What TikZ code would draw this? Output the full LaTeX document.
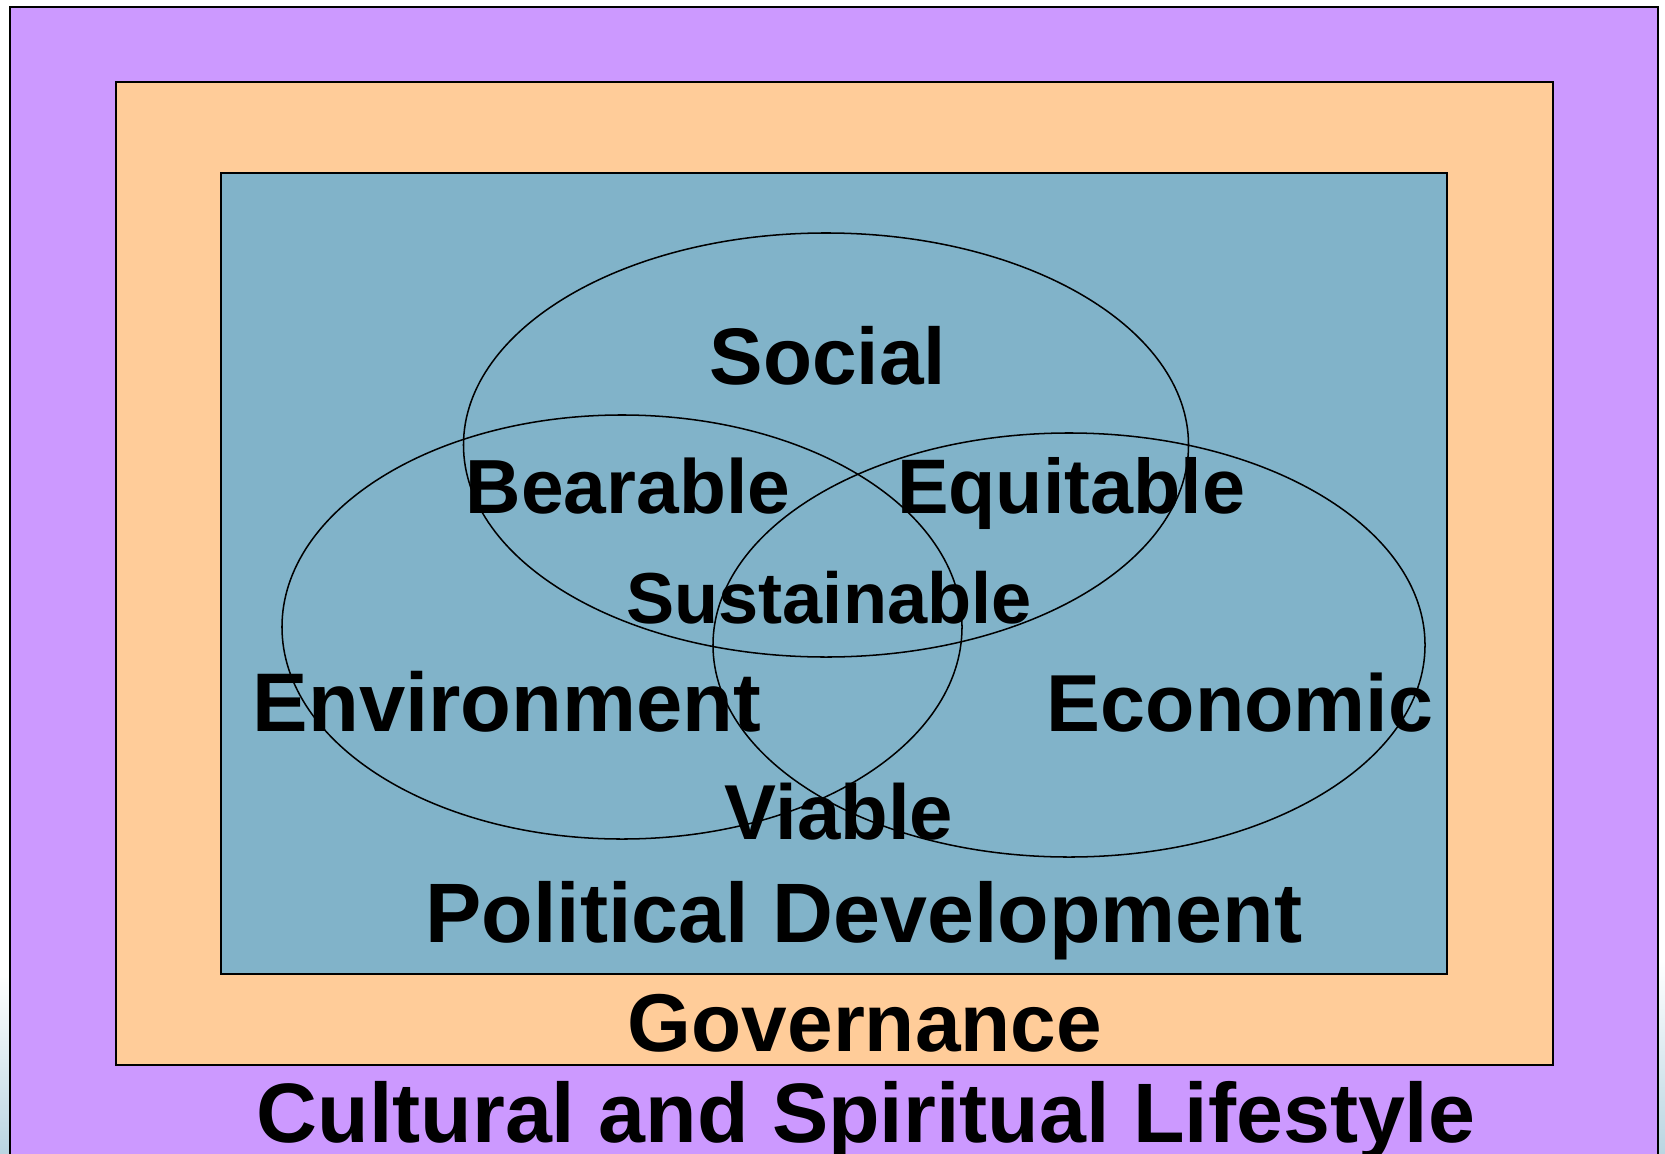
\documentclass[tikz,border=0pt]{standalone}
\usepackage{fontspec}
\setmainfont{Liberation Sans}
\usetikzlibrary{shapes.geometric,positioning}
\definecolor{lilac}{HTML}{CC99FF}
\definecolor{peach}{HTML}{FFCC99}
\definecolor{steel}{HTML}{81B3C9}
\newcommand{\fsz}[1]{\fontsize{#1}{#1}\selectfont}
\tikzset{
  circ/.style={draw,ellipse,minimum height=12.72cm,inner sep=0pt,line width=1.3pt},
  lbl/.style={anchor=base,inner sep=0pt,font=\bfseries},
  layer/.style={draw,line width=1.4pt},
}

\begin{document}
\begin{tikzpicture}[x=0.03cm,y=-0.03cm]
\useasboundingbox (0,0) rectangle (1665,1153);
\clip (0,0) rectangle (1665,1153);
\shade[top color=white,middle color=steel,bottom color=steel!55] (0,975) rectangle (10,1153);
\shade[top color=white,middle color=steel,bottom color=steel!55] (1658,960) rectangle (1665,1153);
% nested layers
\draw[layer,fill=lilac] (10,7) rectangle (1658,1180);
\draw[layer,fill=peach] (116,82) rectangle (1553,1065);
\draw[layer,fill=steel] (221,173) rectangle (1447,974);
% the three circles
\node[circ,minimum width=21.75cm](e_s) at (826,445) {};
\node[circ,minimum width=20.4cm](e_v) at (622,627) {};
\node[circ,minimum width=21.36cm](e_c) at (1069,645) {};
% labels
\node[lbl](t_s) at (828,384) {\fsz{68.5}Social};
\node[lbl](t_b) at (628,513) {\fsz{65.5}Bearable};
\node[lbl](t_q) at (1071,513) {\fsz{66}Equitable};
\node[lbl](t_u) at (829,623) {\fsz{61.6}Sustainable};
\node[lbl](t_v) at (507,731) {\fsz{71}Environment};
\node[lbl](t_c) at (1240,731) {\fsz{69}Economic};
\node[lbl](t_i) at (839,839) {\fsz{66.5}Viable};
\node[lbl](t_p) at (864,942) {\fsz{72}Political Development};
\node[lbl](t_g) at (865,1051) {\fsz{70}Governance};
\node[lbl](t_l) at (866,1142) {\fsz{72}Cultural and Spiritual Lifestyle};
\end{tikzpicture}
\end{document}
